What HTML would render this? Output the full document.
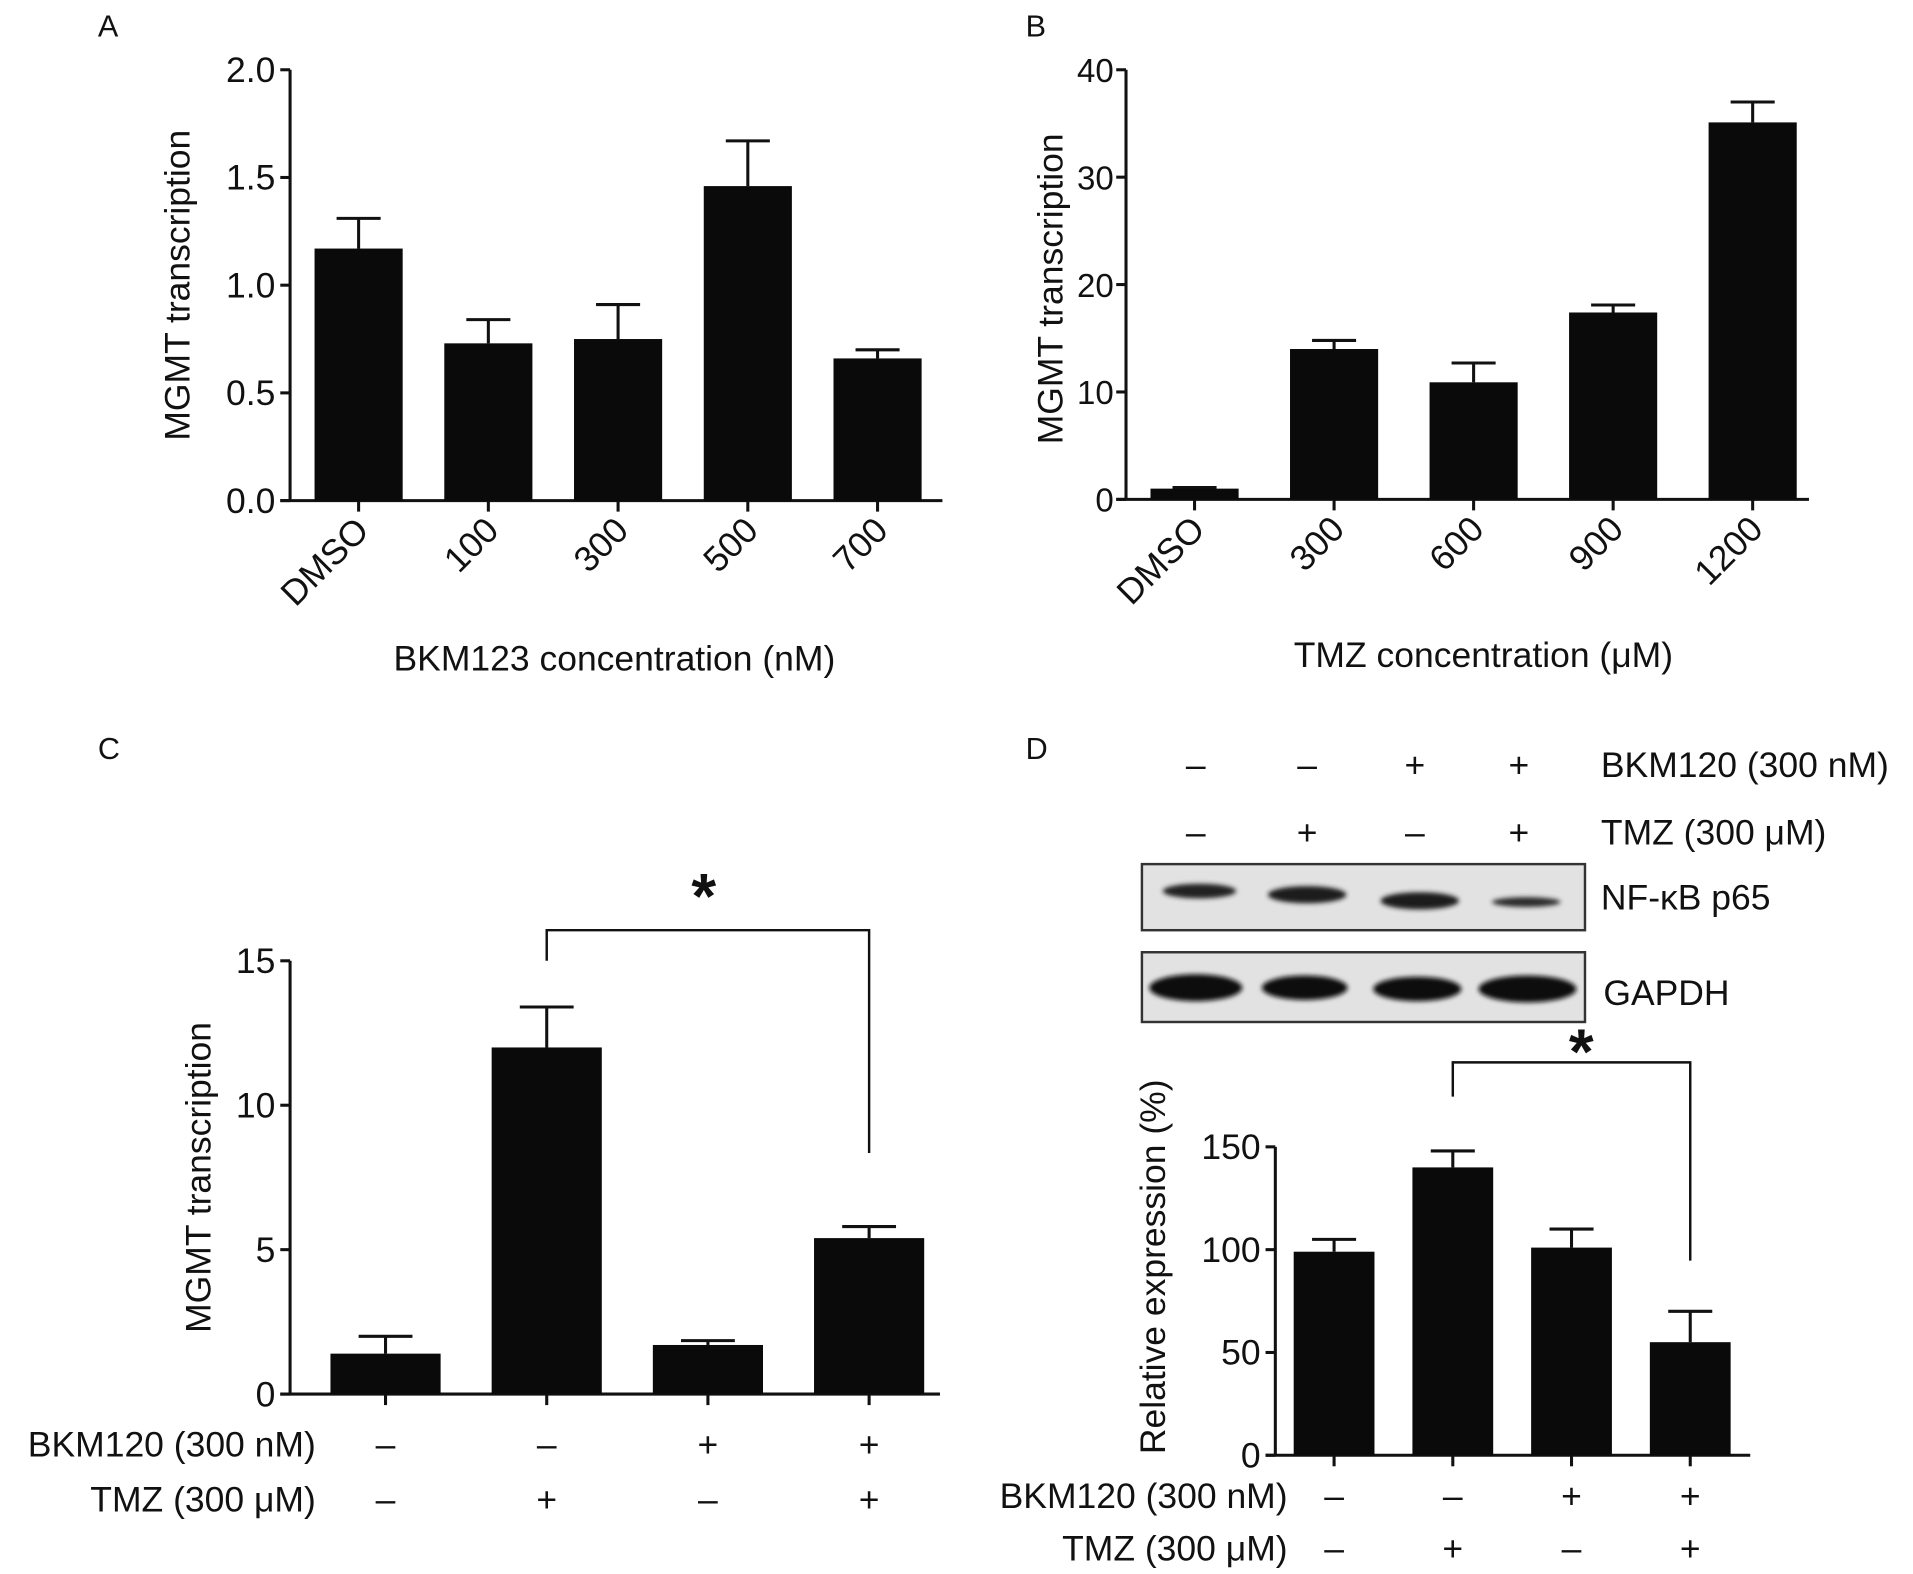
<!DOCTYPE html>
<html><head><meta charset="utf-8">
<style>
html,body{margin:0;padding:0;background:#fff;}
svg{display:block;}
text{font-family:"Liberation Sans",Arial,sans-serif;fill:#111;}
</style></head>
<body>
<svg id="fig" width="1913" height="1574" viewBox="0 0 1563 1286" preserveAspectRatio="none" xmlns="http://www.w3.org/2000/svg">
<defs><filter id="blur" x="-20%" y="-50%" width="140%" height="200%"><feGaussianBlur stdDeviation="2"/></filter></defs>
<g id="blot">
  <rect x="933" y="706" width="362" height="54" fill="#e2e2e2" stroke="#333" stroke-width="2"/>
  <rect x="933" y="778" width="362" height="57" fill="#e2e2e2" stroke="#333" stroke-width="2"/>
  <g filter="url(#blur)">
  <ellipse cx="980" cy="728" rx="30" ry="6" fill="#222"/>
  <ellipse cx="1068" cy="731" rx="32" ry="7" fill="#1a1a1a"/>
  <ellipse cx="1160" cy="736" rx="32" ry="7" fill="#1a1a1a"/>
  <ellipse cx="1247" cy="737" rx="28" ry="4" fill="#2a2a2a"/>
  <ellipse cx="977" cy="807" rx="38" ry="11" fill="#111"/>
  <ellipse cx="1066" cy="807" rx="35" ry="10" fill="#111"/>
  <ellipse cx="1158" cy="808" rx="36" ry="10" fill="#111"/>
  <ellipse cx="1248" cy="808" rx="40" ry="11" fill="#111"/>
  </g>
  <text x="1308" y="743" font-size="29">NF-κB p65</text>
  <text x="1310" y="821" font-size="29">GAPDH</text>
</g>
</svg>
<script>
// Panel A data
const aCategories = ["DMSO","100","300","500","700"];
const aValues = [1.17,0.73,0.75,1.46,0.66];
const aErrors = [0.14,0.11,0.16,0.21,0.04];
const aTicks = [0,0.5,1.0,1.5,2.0];
const aTickLabels = ["0.0","0.5","1.0","1.5","2.0"];
// Panel B data
const bCategories = ["DMSO","300","600","900","1200"];
const bValues = [1.0,14.0,10.9,17.4,35.1];
const bErrors = [0.1,0.8,1.8,0.7,1.9];
const bTicks = [0,10,20,30,40];
const bTickLabels = ["0","10","20","30","40"];
// Panel C data
const cValues = [1.4,12.0,1.7,5.4];
const cErrors = [0.6,1.4,0.15,0.4];
const cTicks = [0,5,10,15];
const cTickLabels = ["0","5","10","15"];
// Panel D data
const dValues = [99,140,101,55];
const dErrors = [6,8,9,15];
const dTicks = [0,50,100,150];
const dTickLabels = ["0","50","100","150"];
// Treatment sign rows
const bkmSigns = ["–","–","+","+"];
const tmzSigns = ["–","+","–","+"];

const NS="http://www.w3.org/2000/svg";
const svg=document.getElementById('fig');
const FS=29;
function el(tag,attrs,parent,txt){
  const e=document.createElementNS(NS,tag);
  for(const k in attrs) e.setAttribute(k,attrs[k]);
  if(txt!==undefined) e.textContent=txt;
  (parent||svg).appendChild(e);
  return e;
}
function panel(cfg){
  const g=el('g',{});
  
  
  const y=v=>cfg.y0-(v-cfg.vmin)/(cfg.vmax-cfg.vmin)*(cfg.y0-cfg.y1);
  const x=i=>cfg.xStart+i*cfg.xStep;
  const ya=el('line',{x1:cfg.ax,y1:cfg.y1,x2:cfg.ax,y2:cfg.y0,stroke:'#111','stroke-width':2.5},g);
  
  
  const xa=el('line',{x1:cfg.ax-8,y1:cfg.y0,x2:cfg.xEnd,y2:cfg.y0,stroke:'#111','stroke-width':2.5},g);
  
  
  cfg.ticks.forEach((t,i)=>{
    el('line',{x1:cfg.ax-8,y1:y(t),x2:cfg.ax,y2:y(t),stroke:'#111','stroke-width':2.5},g);
    const tl=el('text',{x:cfg.ax-(cfg.tickGap||12),y:y(t)+10,'font-size':cfg.tickFS||FS,'text-anchor':'end'},g,cfg.tickLabels[i]);
    
    
  });
  cfg.values.forEach((v,i)=>{
    const cx=x(i);
    el('line',{x1:cx,y1:cfg.y0,x2:cx,y2:cfg.y0+9,stroke:'#111','stroke-width':2.5},g);
    const top=y(v+cfg.errors[i]);
    el('line',{x1:cx,y1:top,x2:cx,y2:y(v),stroke:'#111','stroke-width':2.5},g);
    el('line',{x1:cx-cfg.capW,y1:top,x2:cx+cfg.capW,y2:top,stroke:'#111','stroke-width':2.5},g);
    const b=el('rect',{x:cx-cfg.barW/2,y:y(v),width:cfg.barW,height:cfg.y0-y(v),fill:'#0a0a0a'},g);
    
    
  });
  if(cfg.cats){
    cfg.cats.forEach((c,i)=>{
      const cx=x(i)+10, ty=cfg.y0+26;
      const t=el('text',{x:cx,y:ty,'font-size':FS,'text-anchor':'end',transform:`rotate(-45 ${cx} ${ty})`},g,c);
      
      
    });
  }
  const yt=el('text',{x:cfg.ytX,y:cfg.ytY,'font-size':FS,'text-anchor':'middle',transform:`rotate(-90 ${cfg.ytX} ${cfg.ytY})`},g,cfg.yTitle);
  
  
  if(cfg.xTitle){
    const xt=el('text',{x:cfg.xtX,y:cfg.xtY,'font-size':FS,'text-anchor':'middle'},g,cfg.xTitle);
    
    
  }
  if(cfg.signs){
    const rows=[[bkmSigns,'BKM120 (300 nM)',cfg.row1],[tmzSigns,'TMZ (300 μM)',cfg.row2]];
    rows.forEach(r=>{
      const lab=el('text',{x:cfg.rowLabX,y:r[2],'font-size':FS,'text-anchor':'end'},g,r[1]);
      
      
      r[0].forEach((s,i)=>{
        const st=el('text',{x:x(i),y:r[2],'font-size':FS,'text-anchor':'middle'},g,s);
        
        
      });
    });
  }
  if(cfg.bracket){
    const [i1,i2,topY,b1,b2,sx,sy]=cfg.bracket;
    const p=el('polyline',{points:`${x(i1)},${b1} ${x(i1)},${topY} ${x(i2)},${topY} ${x(i2)},${b2}`,fill:'none',stroke:'#111','stroke-width':2},g);
    
    
    const s=el('text',{x:sx,y:sy,'font-size':52,'font-weight':'bold','text-anchor':'middle'},g,'*');
    
    
  }
  const L=el('text',{x:cfg.letter[0],y:cfg.letter[1],'font-size':25},g,cfg.letter[2]);
  
  
}
panel({name:'panel-a-chart',ax:237,y0:409,y1:57,vmin:0,vmax:2,xStart:293,xStep:106,xEnd:770,barW:72,capW:18,
  ticks:aTicks,tickLabels:aTickLabels,values:aValues,errors:aErrors,cats:aCategories,
  ytX:155,ytY:233,yTitle:'MGMT transcription',xTitle:'BKM123 concentration (nM)',xtX:502,xtY:548,letter:[80,30,'A']});
panel({name:'panel-b-chart',ax:920,y0:408,y1:57,vmin:0,vmax:40,xStart:976,xStep:114,xEnd:1478,barW:72,capW:18,
  ticks:bTicks,tickLabels:bTickLabels,values:bValues,errors:bErrors,cats:bCategories,tickGap:10,tickFS:27,
  ytX:868,ytY:236,yTitle:'MGMT transcription',xTitle:'TMZ concentration (μM)',xtX:1212,xtY:545,letter:[838,30,'B']});
panel({name:'panel-c-chart',ax:237,y0:1139,y1:785,vmin:0,vmax:15,xStart:315,xStep:131.7,xEnd:768,barW:90,capW:22,
  ticks:cTicks,tickLabels:cTickLabels,values:cValues,errors:cErrors,
  ytX:172,ytY:962,yTitle:'MGMT transcription',signs:true,row1:1190,row2:1235,rowLabX:258,
  bracket:[1,3,760,785,942,575,750],letter:[80,620,'C']});
panel({name:'panel-d-chart',ax:1042,y0:1189,y1:937,vmin:0,vmax:150,xStart:1090,xStep:97,xEnd:1430,barW:66,capW:18,
  ticks:dTicks,tickLabels:dTickLabels,values:dValues,errors:dErrors,
  ytX:952,ytY:1035,yTitle:'Relative expression (%)',signs:true,row1:1232,row2:1275,rowLabX:1052,
  bracket:[1,3,868,896,1030,1292,877],letter:[838,620,'D']});
const blotX=[977,1068,1156,1241];
const bg=el('g',{});


[[bkmSigns,635,'BKM120 (300 nM)'],[tmzSigns,690,'TMZ (300 μM)']].forEach(r=>{
  r[0].forEach((s,i)=>{
    const t=el('text',{x:blotX[i],y:r[1],'font-size':FS,'text-anchor':'middle'},bg,s);
    
    
  });
  const l=el('text',{x:1308,y:r[1],'font-size':FS},bg,r[2]);
  
  
});
</script>
</body></html>
